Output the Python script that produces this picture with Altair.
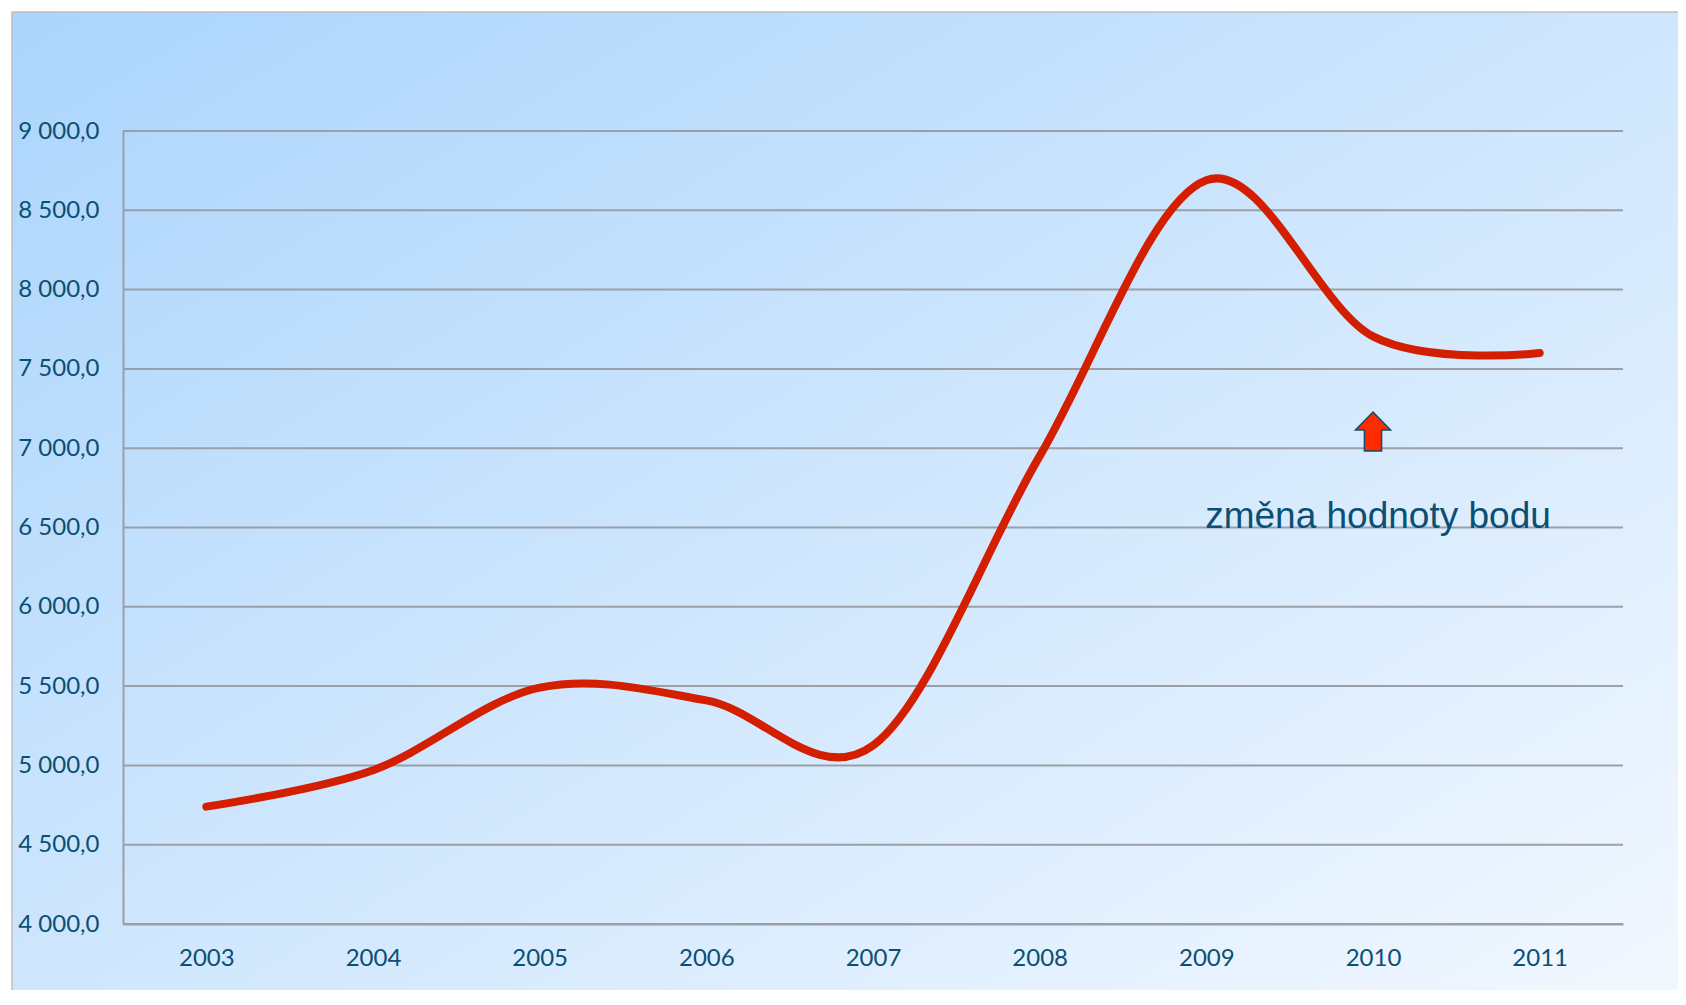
import altair as alt
import pandas as pd

years = ["2003", "2004", "2005", "2006", "2007", "2008", "2009", "2010", "2011"]
values = [4740, 4970, 5490, 5410, 5125, 6950, 8690, 7705, 7600]
y_ticks = [4000, 4500, 5000, 5500, 6000, 6500, 7000, 7500, 8000, 8500, 9000]
note_text = "změna hodnoty bodu"
note_year = "2010"
arrow_value = 7105
note_value = 6500

TEXT = "#0b4f73"
GRID = "#9a9fa8"

W, H = 1500, 793

df = pd.DataFrame({"year": years, "value": values})
grid_df = pd.DataFrame({"v": y_ticks})
arrow_df = pd.DataFrame({"year": [note_year], "value": [arrow_value]})
note_df = pd.DataFrame({"year": [note_year], "value": [note_value], "t": [note_text]})

xs = alt.X("year:O", sort=years,
           axis=alt.Axis(title=None, labelAngle=0, ticks=False, domain=True,
                         domainColor=GRID, domainWidth=2, grid=False,
                         labelFont="Lato", labelFontSize=24, labelColor=TEXT,
                         labelBaseline="middle", labelPadding=34, zindex=1))
ys = alt.Y("value:Q", scale=alt.Scale(domain=[4000, 9000], nice=False, zero=False),
           axis=alt.Axis(title=None, values=y_ticks, ticks=False, grid=False,
                         domain=True, domainColor=GRID, domainWidth=2,
                         labelFont="Lato", labelFontSize=24, labelColor=TEXT,
                         labelPadding=24, zindex=1,
                         labelExpr="replace(replace(format(datum.value, ',.1f'), ',', ' '), '.', ',')"))

bg = alt.Chart(pd.DataFrame({"a": [0]})).mark_rect(
    fill=alt.LinearGradient(gradient="linear",
                            stops=[alt.GradientStop(color="#abd5fc", offset=0),
                                   alt.GradientStop(color="#f5f9ff", offset=1)],
                            x1=0, y1=0, x2=1, y2=1),
    stroke="#bfbfbf", strokeWidth=1.5
).encode(x=alt.value(-111), x2=alt.value(1620), y=alt.value(-119), y2=alt.value(H + 120))

grid = alt.Chart(grid_df).mark_rule(color=GRID, strokeWidth=2).encode(
    y=alt.Y("v:Q", scale=alt.Scale(domain=[4000, 9000], nice=False, zero=False))
)

line = alt.Chart(df).mark_line(color="#d41e00", strokeWidth=8, interpolate="cardinal",
                               strokeCap="round").encode(x=xs, y=ys)

arrow_path = "M0,-1 L0.9,-0.08 L0.44,-0.08 L0.44,1 L-0.44,1 L-0.44,-0.08 L-0.9,-0.08 Z"
arrow = alt.Chart(arrow_df).mark_point(shape=arrow_path, size=1521, filled=True,
                                       fill="#ff2a00", stroke=TEXT, strokeWidth=1.5,
                                       opacity=1).encode(
    x=alt.X("year:O", sort=years), y=alt.Y("value:Q"))

note = alt.Chart(note_df).mark_text(font="Liberation Sans", fontSize=37, color=TEXT,
                                    align="center", baseline="alphabetic", dx=5).encode(
    x=alt.X("year:O", sort=years), y=alt.Y("value:Q"), text="t:N")

chart = alt.layer(bg, grid, line, arrow, note).properties(
    width=W, height=H,
    autosize=alt.AutoSizeParams(type="none"),
    padding={"left": 115, "top": 123, "right": 55, "bottom": 66},
).configure_view(stroke=None)

chart.save("out.html", embed_options={"renderer": "svg", "actions": False})
